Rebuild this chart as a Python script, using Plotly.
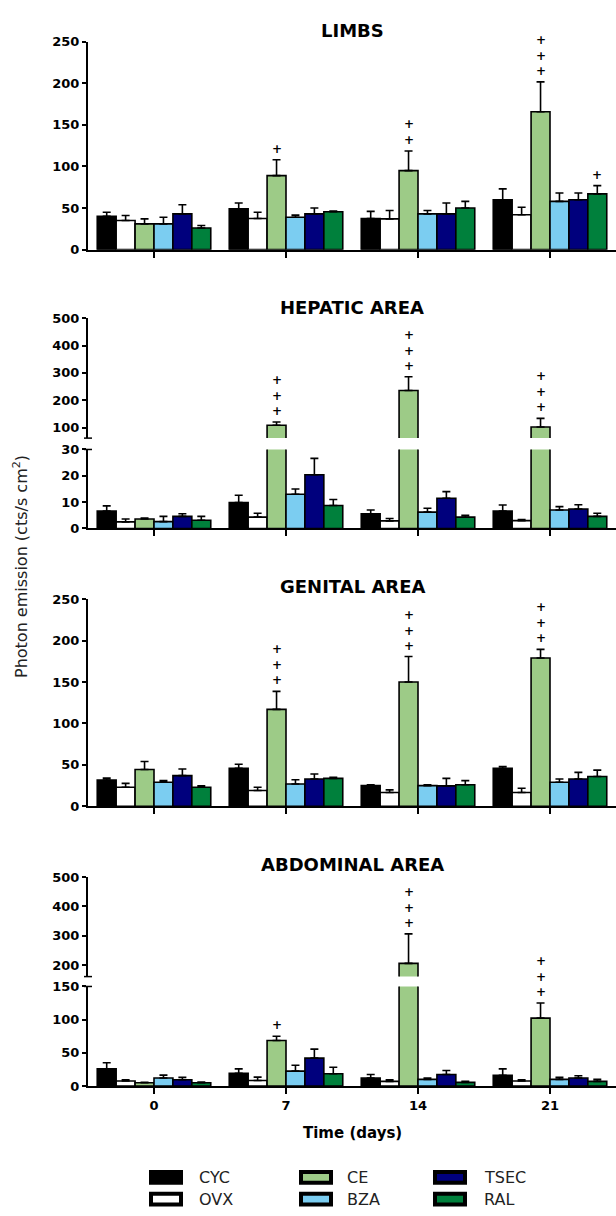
import plotly.graph_objects as go

W, H = 616, 1216

# ---------------- data ----------------
days = ["0", "7", "14", "21"]
groups = ["CYC", "OVX", "CE", "BZA", "TSEC", "RAL"]
colors = ["#000000", "#FFFFFF", "#9DCB87", "#7BCDF1", "#00007D", "#00803C"]

# LIMBS (rows: groups, cols: days)
limbs_mean = [[40, 49, 37.5, 60], [35, 37.5, 37, 42], [31, 89, 95, 165.6],
              [31, 39, 43, 58], [43, 43, 43, 60], [26, 45.5, 50, 67]]
limbs_sem = [[5, 7, 8.5, 13], [6, 7.5, 10, 9], [6, 19, 23.6, 36],
             [8, 2.5, 4, 10], [11, 7, 13, 8], [3, 1, 8, 10]]
limbs_sig = [[0, 0, 0, 0], [0, 0, 0, 0], [0, 1, 2, 3],
             [0, 0, 0, 0], [0, 0, 0, 0], [0, 0, 0, 1]]

# HEPATIC AREA
hepatic_mean = [[6.6, 9.8, 5.6, 6.6], [2.5, 4.3, 2.9, 3.0], [3.6, 109, 236, 102.5],
                [2.6, 13, 6.2, 7], [4.6, 20.4, 11.5, 7.4], [3.1, 8.7, 4.3, 4.6]]
hepatic_sem = [[2, 2.8, 1.4, 2.3], [1.1, 1.5, 0.9, 0.4], [0.4, 12, 50, 31.5],
               [2, 2, 1.5, 1.3], [1, 6.2, 2.5, 1.6], [1.5, 2.3, 0.7, 1.2]]
hepatic_sig = [[0, 0, 0, 0], [0, 0, 0, 0], [0, 3, 3, 3],
               [0, 0, 0, 0], [0, 0, 0, 0], [0, 0, 0, 0]]

# GENITAL AREA
genital_mean = [[31.7, 46, 25, 46], [23, 19, 16.6, 16.6], [44.4, 117, 150, 179],
                [29, 27, 25, 29], [37, 33, 24.6, 33], [23, 33.7, 26, 36]]
genital_sem = [[2.3, 4.7, 1, 2], [4.7, 4, 3.2, 5.2], [9.6, 21.7, 30.7, 10.4],
               [2, 5, 1, 4], [8, 6, 9.1, 8], [1.6, 1.3, 5, 7.6]]
genital_sig = [[0, 0, 0, 0], [0, 0, 0, 0], [0, 3, 3, 3],
               [0, 0, 0, 0], [0, 0, 0, 0], [0, 0, 0, 0]]

# ABDOMINAL AREA
abdominal_mean = [[25.8, 19, 12, 16], [7.5, 8.4, 7, 7.5], [5, 68.6, 205.6, 102.3],
                  [12, 22.4, 10, 10], [9.4, 42, 17.4, 12], [5, 18.4, 5.5, 7]]
abdominal_sem = [[9.2, 6.8, 5.4, 9.8], [1.9, 5, 2.4, 1.9], [0.5, 6.4, 100.8, 22.7],
                 [4.4, 8.9, 2, 3], [3.6, 13.6, 5.9, 3.4], [1, 9.9, 1.5, 3]]
abdominal_sig = [[0, 0, 0, 0], [0, 0, 0, 0], [0, 1, 3, 3],
                 [0, 0, 0, 0], [0, 0, 0, 0], [0, 0, 0, 0]]

titles = ["LIMBS", "HEPATIC AREA", "GENITAL AREA", "ABDOMINAL AREA"]
y_title = "Photon emission (cts/s cm<sup>2</sup>)"
x_title = "Time (days)"

# ---------------- layout geometry ----------------
def py(p):
    return 1 - p / H

def px(p):
    return p / W

panels = [
    dict(title=titles[0], mean=limbs_mean, sem=limbs_sem, sig=limbs_sig, title_px=23.5,
         segs=[dict(rng=[0, 250], pix=(245.7, 35), tv=[0, 50, 100, 150, 200, 250], lower=True)]),
    dict(title=titles[1], mean=hepatic_mean, sem=hepatic_sem, sig=hepatic_sig, title_px=304,
         segs=[dict(rng=[0, 30], pix=(528, 448), tv=[0, 10, 20, 30], lower=True),
               dict(rng=[62, 500], pix=(436.5, 315), tv=[100, 200, 300, 400, 500], lower=False)]),
    dict(title=titles[2], mean=genital_mean, sem=genital_sem, sig=genital_sig, title_px=587,
         segs=[dict(rng=[0, 250], pix=(809.3, 599.5), tv=[0, 50, 100, 150, 200, 250], lower=True)]),
    dict(title=titles[3], mean=abdominal_mean, sem=abdominal_sem, sig=abdominal_sig, title_px=868.5,
         segs=[dict(rng=[0, 150], pix=(1092.5, 991.7), tv=[0, 50, 100, 150], lower=True),
               dict(rng=[160.6, 500], pix=(981.7, 881), tv=[200, 300, 400, 500], lower=False)]),
]

FONT = "DejaVu Sans"
bargap = 0.14
bw = (1 - bargap) / len(groups)
xdom = [px(88), px(616)]
xc = list(range(len(days)))

fig = go.Figure()
layout_axes = {}
annotations = []
shapes = []
ax = 0
for pi, p in enumerate(panels):
    seg_refs = []
    for s in p["segs"]:
        ax += 1
        xa = "x" if ax == 1 else f"x{ax}"
        ya = "y" if ax == 1 else f"y{ax}"
        seg_refs.append((xa, ya, s))
        lo, hi = s["rng"]
        for g, name in enumerate(groups):
            means = p["mean"][g]
            sems = p["sem"][g]
            err = [e if lo <= m <= hi else None for m, e in zip(means, sems)]
            errm = [0 if e is not None else None for e in err]
            fig.add_trace(go.Bar(
                x=xc, y=means, xaxis=xa, yaxis=ya, name=name, showlegend=False,
                offsetgroup=str(g),
                marker=dict(color=colors[g], line=dict(color="black", width=1.6)),
                error_y=dict(type="data", symmetric=False, array=err, arrayminus=errm,
                             color="black", thickness=1.6, width=4),
            ))
        last = (pi == len(panels) - 1)
        xkey = "xaxis" if ax == 1 else f"xaxis{ax}"
        ykey = "yaxis" if ax == 1 else f"yaxis{ax}"
        layout_axes[xkey] = dict(
            domain=xdom, range=[-0.5, len(days) - 0.5], anchor=ya,
            visible=s["lower"], showline=True, linecolor="black", linewidth=2,
            ticks="outside", ticklen=6, tickwidth=1.5, tickcolor="black",
            tickvals=xc, ticktext=days, showticklabels=last,
            tickfont=dict(family=FONT, size=13, color="black", weight="bold"),
            showgrid=False, zeroline=False, fixedrange=True,
        )
        layout_axes[ykey] = dict(
            domain=[py(s["pix"][0]), py(s["pix"][1])], range=s["rng"], anchor=xa,
            showline=True, linecolor="black", linewidth=2,
            ticks="outside", ticklen=4, tickwidth=1.5, tickcolor="black",
            tickvals=s["tv"], tickfont=dict(family=FONT, size=13, color="black", weight="bold"),
            showgrid=False, zeroline=False, fixedrange=True,
        )
        # axis-break caps
        if len(p["segs"]) > 1:
            yb = s["pix"][0] if not s["lower"] else s["pix"][1]
            shapes.append(dict(type="line", xref="paper", yref="paper",
                               x0=px(84), x1=px(92), y0=py(yb), y1=py(yb),
                               line=dict(color="black", width=1.5)))
    # panel title
    annotations.append(dict(text=p["title"], x=px(352), y=py(p["title_px"]), xref="paper",
                            yref="paper", showarrow=False, xanchor="center", yanchor="middle",
                            font=dict(family=FONT, size=18, color="black", weight="bold")))
    # significance marks (stacked "+" above the error bar)
    for g in range(len(groups)):
        for d in range(len(days)):
            n = p["sig"][g][d]
            if not n:
                continue
            m = p["mean"][g][d]
            top = m + p["sem"][g][d]
            xa, ya, s = seg_refs[0]
            for (xa2, ya2, s2) in seg_refs:
                if s2["rng"][0] <= m <= s2["rng"][1]:
                    xa, ya, s = xa2, ya2, s2
            annotations.append(dict(text="<br>".join(["+"] * n), x=d + (g - 2.5) * bw, y=top,
                                    xref=xa, yref=ya, showarrow=False,
                                    xanchor="center", yanchor="bottom", yshift=2,
                                    font=dict(family=FONT, size=12, color="black", weight="bold")))

# axis titles
annotations.append(dict(text=y_title, x=px(20), y=py(567), xref="paper", yref="paper",
                        textangle=-90, showarrow=False, xanchor="center", yanchor="middle",
                        font=dict(family=FONT, size=16, color="#222222")))
annotations.append(dict(text=x_title, x=px(352), y=py(1140), xref="paper", yref="paper",
                        showarrow=False, xanchor="center", yanchor="middle",
                        font=dict(family=FONT, size=15, color="black", weight="bold")))

# legend (3 columns x 2 rows)
leg_cols = [(151, 197), (301, 345), (435, 482)]
leg_rows = [1185, 1207]
for g, name in enumerate(groups):
    c, r = divmod(g, 2)
    sx, tx = leg_cols[c]
    cy = leg_rows[r]
    shapes.append(dict(type="rect", xref="paper", yref="paper",
                       x0=px(sx), x1=px(sx + 30), y0=py(cy + 5.5), y1=py(cy - 5.5),
                       fillcolor=colors[g], line=dict(color="black", width=4)))
    annotations.append(dict(text=name, x=px(tx), y=py(cy), xref="paper", yref="paper",
                            showarrow=False, xanchor="left", yanchor="middle",
                            font=dict(family=FONT, size=16, color="#222222")))

fig.update_layout(
    width=W, height=H, margin=dict(l=0, r=0, t=0, b=0),
    paper_bgcolor="white", plot_bgcolor="white",
    barmode="group", bargap=bargap, bargroupgap=0,
    showlegend=False, annotations=annotations, shapes=shapes,
    **layout_axes,
)

fig.write_html("out.html", config={"displayModeBar": False},
               post_script="document.body.style.margin='0';")
